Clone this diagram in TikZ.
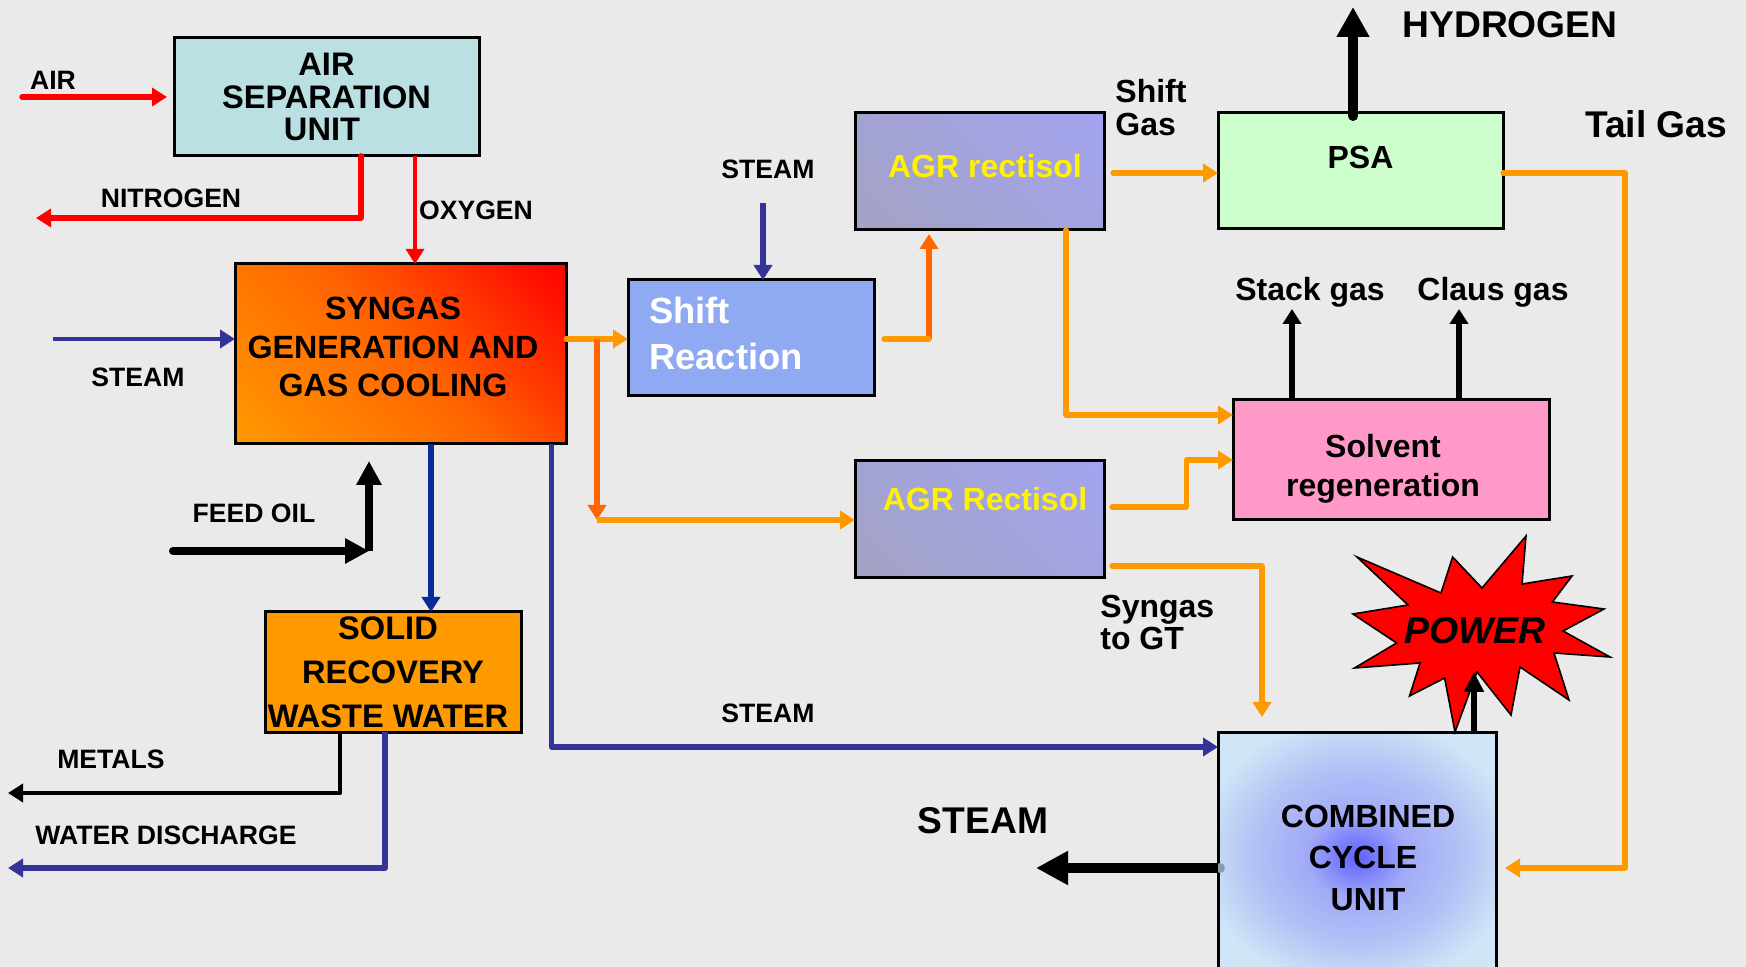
\documentclass[tikz,border=0pt]{standalone}
\usepackage{fontspec}
\setmainfont{Liberation Sans}
\usetikzlibrary{arrows.meta}
\definecolor{bggrey}{HTML}{EAEAEA}
\definecolor{asucol}{HTML}{BAE0E3}
\definecolor{shiftcol}{HTML}{8FA9F2}
\definecolor{psacol}{HTML}{CCFFCC}
\definecolor{solventcol}{HTML}{FF99C8}
\definecolor{solidcol}{HTML}{FF9900}
\definecolor{agrtop}{HTML}{A3A3F0}
\definecolor{agrbot}{HTML}{A3A3C4}
\definecolor{steamblue}{HTML}{333399}
\definecolor{solidblue}{HTML}{0A2A9C}
\definecolor{gasorange}{HTML}{FF9900}
\definecolor{darkorange}{HTML}{FF6600}
\definecolor{dotgrey}{HTML}{8C9CA6}
\definecolor{glowa}{HTML}{6060FF}
\definecolor{glowb}{HTML}{A0AAF7}
\definecolor{glowc}{HTML}{B4C2F5}
\definecolor{glowd}{HTML}{D0E6F6}
\pgfdeclareradialshading{ccuglow}{\pgfpoint{0bp}{-1.5bp}}{color(0bp)=(glowa); color(9bp)=(glowb); color(19bp)=(glowc); color(29bp)=(glowd); color(50bp)=(glowd)}
\pgfdeclareverticalshading{syngasglow}{100bp}{color(0bp)=(solidcol); color(15bp)=(solidcol); color(50bp)=(darkorange); color(85bp)=(red); color(100bp)=(red)}
\pgfdeclareverticalshading{agrglow}{100bp}{color(0bp)=(agrbot); color(15bp)=(agrbot); color(85bp)=(agrtop); color(100bp)=(agrtop)}
\newcommand{\nudge}[1]{\hspace*{#1}\mbox{}}
\tikzset{
    box/.style={draw=black, line width=1.5pt, outer sep=0pt, inner sep=0pt, align=center, font=\bfseries\fontsize{16}{19.3}\selectfont},
    flow/.style={line width=2.6pt, line join=round, -{Triangle[length=7.5pt,width=9pt]}},
    heavyflow/.style={line width=4pt, -{Triangle[length=12pt,width=12pt]}},
    gasflow/.style={flow, gasorange, line cap=round},
    lbl/.style={inner sep=0pt, font=\bfseries\fontsize{13.3}{15}\selectfont},
    midlbl/.style={inner sep=0pt, align=left, font=\bfseries\fontsize{16}{16.5}\selectfont},
    biglbl/.style={inner sep=0pt, font=\bfseries\fontsize{18.6}{22}\selectfont}
}
\begin{document}
\begin{tikzpicture}[x=0.5pt,y=-0.5pt]
    \useasboundingbox (0,0) rectangle (1746,967);
    \fill[bggrey] (0,0) rectangle (1746,967);

    \node[box, fill=asucol, minimum width=152.5pt, minimum height=59pt, font=\bfseries\fontsize{16.3}{16.3}\selectfont] (asu) at (326.5,97) {AIR\\SEPARATION\\UNIT\nudge{4.5pt}};
    \node[box, shading=syngasglow, shading angle=-45, minimum width=165.5pt, minimum height=90pt, font=\bfseries\fontsize{16.1}{19.3}\selectfont] (syngas) at (400.5,354) {SYNGAS\nudge{7.5pt}\\GENERATION AND\nudge{7.5pt}\\GAS COOLING\nudge{7.5pt}\rule[-7pt]{0pt}{7pt}};
    \node[box, fill=solidcol, minimum width=128pt, minimum height=60pt, font=\bfseries\fontsize{16.3}{22}\selectfont] (solid) at (393,672) {SOLID\nudge{5pt}\\RECOVERY\\WASTE WATER\nudge{5pt}};
    \node[box, fill=shiftcol, text=white, minimum width=123pt, minimum height=58pt, text width=102pt, inner xsep=10.5pt, align=left, font=\bfseries\fontsize{18.2}{23}\selectfont] (shift) at (751,338) {Shift\\Reaction\rule[-5pt]{0pt}{5pt}};
    \node[box, shading=agrglow, shading angle=-45, text=yellow, minimum width=124.5pt, minimum height=58.5pt, text depth=5.5pt] (agrtopbox) at (979.5,171.5) {\hspace*{5.5pt}AGR rectisol};
    \node[box, shading=agrglow, shading angle=-45, text=yellow, minimum width=124.5pt, minimum height=58.5pt, text depth=21pt] (agrlowbox) at (979.5,519.5) {\hspace*{5.5pt}AGR Rectisol};
    \node[box, fill=psacol, minimum width=142.5pt, minimum height=58pt, text depth=14pt] (psa) at (1360.5,171) {PSA};
    \node[box, fill=solventcol, minimum width=158pt, minimum height=60pt, font=\bfseries\fontsize{16}{19.5}\selectfont] (solvent) at (1391,460) {\rule{0pt}{20pt}Solvent\nudge{8pt}\\regeneration\nudge{8pt}};
    \node[box, shading=ccuglow, minimum width=139pt, minimum height=118pt, font=\bfseries\fontsize{16}{20.7}\selectfont] (ccu) at (1357,850) {\rule{0pt}{19pt}\hspace*{11pt}COMBINED\\\hspace*{6pt}CYCLE\\\hspace*{11pt}UNIT};

    \draw[fill=red, draw=black, line width=0.8pt, line join=miter] (1357,557) -- (1441,593) -- (1452.6,557) -- (1482,588) -- (1526,536) -- (1522,584) -- (1572,576) -- (1552.4,602) -- (1604,609) -- (1563,631) -- (1610,657) -- (1554,653) -- (1569,700) -- (1520,667) -- (1511,715) -- (1477,672) -- (1455,732) -- (1444.6,678) -- (1409.5,696) -- (1420,663) -- (1354.5,668) -- (1396.6,643) -- (1353,614) -- (1408,605) -- cycle;
    \node[biglbl, font=\bfseries\itshape\fontsize{18.7}{22}\selectfont] (power) at (1475,631) {POWER};

    \coordinate (airin) at (22,97);
    \coordinate (airend) at (167,97);
    \coordinate (nitrogenout) at (36,218);
    \coordinate (steamin) at (53,339);
    \coordinate (feedin) at (173,551);
    \coordinate (feedturn) at (369,551);
    \coordinate (feedup) at (369,461);
    \coordinate (metalsout) at (8,793);
    \coordinate (waterout) at (8,868);
    \coordinate (shiftsteam) at (763,203);
    \coordinate (branchtop) at (597,339);
    \coordinate (branchlow) at (597,520);
    \coordinate (shiftout) at (884,339);
    \coordinate (shiftturn) at (929,339);
    \coordinate (agrtarget) at (929,234);
    \coordinate (hydrogenout) at (1353,7);
    \coordinate (stackout) at (1292,309);
    \coordinate (clausout) at (1459,309);
    \coordinate (shiftgasin) at (1113,173);
    \coordinate (solventin) at (1112,507);
    \coordinate (solventturn) at (1186.5,507);
    \coordinate (solventlow) at (1186.5,460);
    \coordinate (gtin) at (1112,566);
    \coordinate (gtturn) at (1262,566);
    \coordinate (gtout) at (1262,717);
    \coordinate (tailcorner) at (1625,173);
    \coordinate (tailturn) at (1625,868);
    \coordinate (tailout) at (1505,868);
    \coordinate (bigsteamout) at (1036,868);
    \coordinate (powertip) at (1474,672);

    \draw[flow, red, line cap=round] (airin) -- (airend);
    \draw[flow, red, line cap=round, line width=2.8pt] (361,0 |- asu.south) |- (nitrogenout);
    \draw[flow, red, line width=1.7pt] (415,0 |- asu.south) -- (415,0 |- syngas.north);
    \draw[flow, steamblue, line width=2pt] (steamin) -- (steamin -| syngas.west);
    \draw[heavyflow, line cap=round] (feedin) -- (feedturn);
    \draw[heavyflow] (feedturn) -- (feedup);
    \draw[flow, solidblue] (431,0 |- syngas.south) -- (431,0 |- solid.north);
    \draw[flow, steamblue] (551.5,0 |- syngas.south) |- (ccu.west |- 0,747);
    \draw[flow, black, line width=2.2pt] (340,0 |- solid.south) |- (metalsout);
    \draw[flow, steamblue] (385,0 |- solid.south) |- (waterout);
    \draw[flow, steamblue] (shiftsteam) -- (shiftsteam |- shift.north);
    \draw[gasflow] (branchtop -| syngas.east) -- (branchtop -| shift.west);
    \draw[flow, darkorange] (branchtop) -- (branchlow);
    \draw[flow, gasorange] (branchlow) -- (branchlow -| agrlowbox.west);
    \draw[flow, darkorange] (shiftturn) -- (agrtarget);
    \draw[gasflow, -] (shiftout) -- (shiftturn);
    \draw[gasflow] (1066,0 |- agrtopbox.south) |- (solvent.west |- 0,415);
    \draw[gasflow] (shiftgasin) -- (shiftgasin -| psa.west);
    \draw[gasflow] (solventin) -- (solventturn) -- (solventlow) -- (solventlow -| solvent.west);
    \draw[gasflow] (gtin) -- (gtturn) -- (gtout);
    \draw[gasflow] (tailcorner -| psa.east) -- (tailcorner) -- (tailturn) -- (tailout);
    \draw[line width=5pt, line cap=round, -{Triangle[length=15pt,width=15.5pt]}] (1353,0 |- psa.north) ++(0,3) -- (hydrogenout);
    \draw[flow] (stackout |- solvent.north) -- (stackout);
    \draw[flow] (clausout |- solvent.north) -- (clausout);
    \draw[line width=3pt, -{Triangle[length=10pt,width=9.5pt]}] (1474,0 |- ccu.north) -- (powertip);
    \fill[dotgrey] (ccu.west |- tailout) ++(2,0) circle (2.5pt);
    \draw[line width=5pt, -{Triangle[length=16pt,width=16pt]}] (ccu.west |- tailout) -- (bigsteamout);

    \node[lbl] (airlbl) at (53,80.5) {AIR};
    \node[lbl] (nitrogenlbl) at (171,198.5) {NITROGEN};
    \node[lbl] (oxygenlbl) at (476,210.5) {OXYGEN};
    \node[lbl] (steamleftlbl) at (138,377.5) {STEAM};
    \node[lbl] (feedlbl) at (254,513.5) {FEED OIL};
    \node[lbl] (metalslbl) at (111,759) {METALS};
    \node[lbl] (waterlbl) at (166,835.5) {WATER DISCHARGE};
    \node[lbl] (steamtoplbl) at (768,169.5) {STEAM};
    \node[lbl] (steamlonglbl) at (768,713) {STEAM};
    \node[midlbl, anchor=west] (shiftgaslbl) at (1115,108) {Shift\\Gas};
    \node[midlbl, anchor=west, font=\bfseries\fontsize{16}{16}\selectfont] (syngaslbl) at (1100,622.5) {Syngas\\to GT};
    \node[midlbl] (stacklbl) at (1310,292.5) {Stack gas};
    \node[midlbl] (clauslbl) at (1493,292.5) {Claus gas};
    \node[biglbl] (hydrogenlbl) at (1510,25) {HYDROGEN};
    \node[biglbl] (taillbl) at (1656,124.5) {Tail Gas};
    \node[biglbl] (bigsteamlbl) at (983,821) {STEAM};
\end{tikzpicture}
\end{document}
